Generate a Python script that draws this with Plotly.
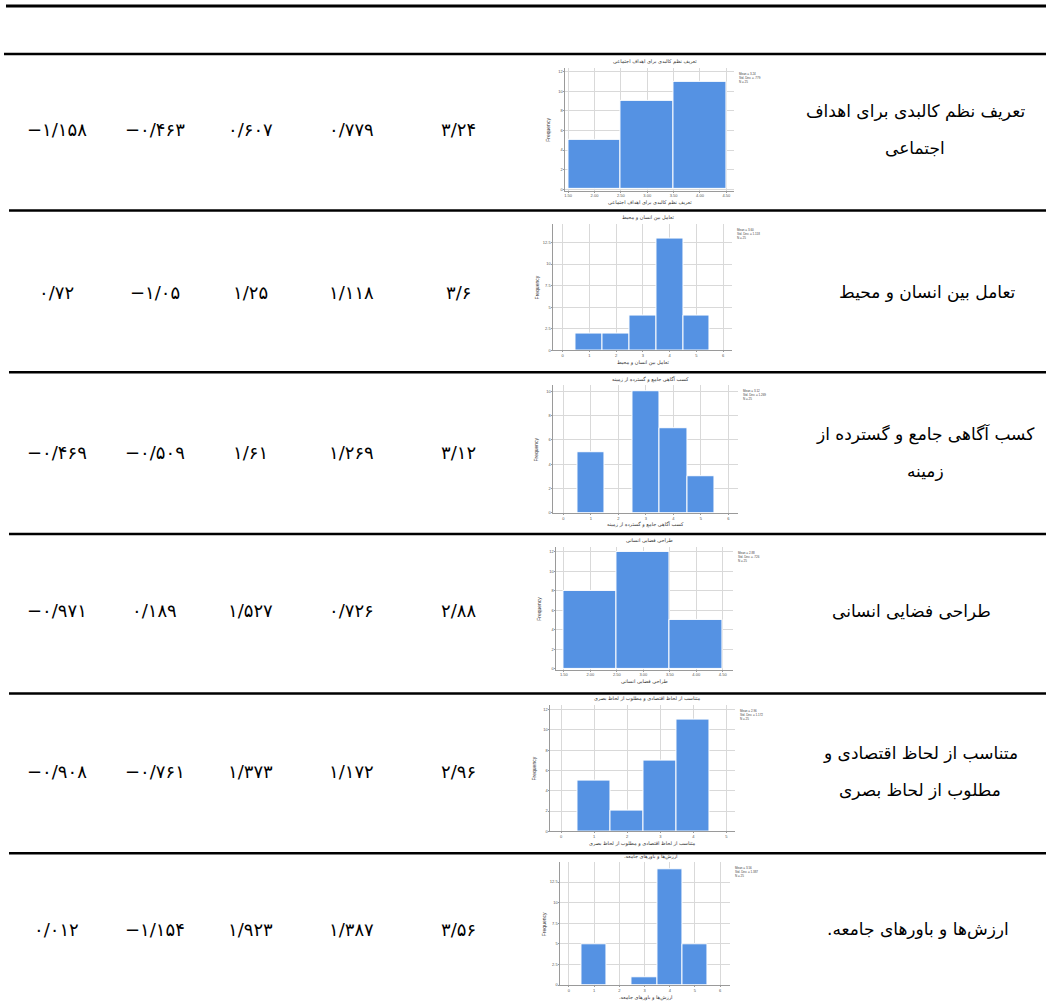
import plotly.graph_objects as go

W, H = 1046, 1005

# row labels (right column), split in display lines
labels = [
    ["تعریف نظم کالبدی برای اهداف", "اجتماعی"],
    ["تعامل بین انسان و محیط"],
    ["کسب آگاهی جامع و گسترده از", "زمینه"],
    ["طراحی فضایی انسانی"],
    ["متناسب از لحاظ اقتصادی و", "مطلوب از لحاظ بصری"],
    ["ارزش‌ها و باورهای جامعه.\u200f"],
]
means = ["۳/۲۴", "۳/۶", "۳/۱۲", "۲/۸۸", "۲/۹۶", "۳/۵۶"]
std_devs = ["۰/۷۷۹", "۱/۱۱۸", "۱/۲۶۹", "۰/۷۲۶", "۱/۱۷۲", "۱/۳۸۷"]
variances = ["۰/۶۰۷", "۱/۲۵", "۱/۶۱", "۱/۵۲۷", "۱/۳۷۳", "۱/۹۲۳"]
skewness = ["−۰/۴۶۳", "−۱/۰۵", "−۰/۵۰۹", "۰/۱۸۹", "−۰/۷۶۱", "−۱/۱۵۴"]
kurtosis = ["−۱/۱۵۸", "۰/۷۲", "−۰/۴۶۹", "−۰/۹۷۱", "−۰/۹۰۸", "۰/۰۱۲"]

# histogram data for each row
hist_x = [[2, 3, 4], [1, 2, 3, 4, 5], [1, 3, 4, 5], [2, 3, 4], [1, 2, 3, 4], [1, 3, 4, 5]]
hist_counts = [[5, 9, 11], [2, 2, 4, 13, 4], [5, 10, 7, 3], [8, 12, 5], [5, 2, 7, 11], [5, 1, 14, 5]]
hist_mean = ["3.24", "3.60", "3.12", "2.88", "2.96", "3.56"]
hist_sd = [".779", "1.118", "1.269", ".726", "1.172", "1.387"]
hist_n = [25, 25, 25, 25, 25, 25]
x_ticks = [
    [1.5, 2.0, 2.5, 3.0, 3.5, 4.0, 4.5],
    [0, 1, 2, 3, 4, 5, 6],
    [0, 1, 2, 3, 4, 5, 6],
    [1.5, 2.0, 2.5, 3.0, 3.5, 4.0, 4.5],
    [0, 1, 2, 3, 4, 5],
    [0, 1, 2, 3, 4, 5, 6],
]
y_dtick = [2, 2.5, 2, 2, 2, 2.5]

# plot-area geometry in pixels: left, right, top, bottom, x range, y range
geo = [
    (565, 734, 68, 191, [1.45, 4.65], [-0.15, 12.4]),
    (553, 732, 224, 351, [-0.34, 6.34], [0, 14.7]),
    (553, 738, 386, 514, [-0.36, 6.36], [0, 10.5]),
    (556, 733, 548, 671, [1.36, 4.7], [-0.1, 12.5]),
    (550, 735, 706, 833, [-0.32, 5.27], [0, 12.5]),
    (560, 730, 864, 987, [-0.33, 6.4], [0, 14.9]),
]
row_mid = [130, 293, 453, 612, 773, 931]
col_x = [458, 351, 250, 154, 56]
label_x = [915, 927, 925, 911, 920, 918]

def px(x):
    return x / W

def py(y):
    return 1 - y / H

def note(x, y, text, size, family, color="black", **kw):
    d = dict(x=px(x), y=py(y), text=text, showarrow=False, xref="paper", yref="paper",
             xanchor="center", yanchor="middle",
             font=dict(size=size, color=color, family=family))
    d.update(kw)
    return d

fig = go.Figure()
ann = []
font_fa = "DejaVu Sans"

for i in range(6):
    sfx = "" if i == 0 else str(i + 1)
    l, r, t, b, xr, yr = geo[i]
    fig.add_trace(go.Bar(
        x=hist_x[i], y=hist_counts[i], width=1,
        marker=dict(color="#5592e3", line=dict(color="white", width=1)),
        xaxis="x" + sfx, yaxis="y" + sfx, showlegend=False,
    ))
    fig.layout["xaxis" + sfx] = dict(
        domain=[px(l), px(r)], range=xr, anchor="y" + sfx,
        tickvals=x_ticks[i], ticktext=[f"{v:.2f}" if i in (0, 3) else str(v) for v in x_ticks[i]],
        showgrid=True, gridcolor="#d9d9d9", gridwidth=1, zeroline=False,
        showline=True, linecolor="#9a9a9a", linewidth=1,
        ticks="outside", ticklen=1, tickcolor="#9a9a9a",
        tickfont=dict(size=4, color="#555", family="Arial"),
    )
    fig.layout["yaxis" + sfx] = dict(
        domain=[py(b), py(t)], range=yr, anchor="x" + sfx,
        dtick=y_dtick[i], tick0=0,
        showgrid=True, gridcolor="#d9d9d9", gridwidth=1, zeroline=False,
        showline=True, linecolor="#9a9a9a", linewidth=1,
        ticks="outside", ticklen=1, tickcolor="#9a9a9a",
        tickfont=dict(size=4, color="#555", family="Arial"),
    )
    name = " ".join(labels[i])
    # chart title, x title, y title, stats box
    ann.append(note((l + r) / 2 + 5, t - 6, name, 5, font_fa, "#333"))
    ann.append(note((l + r) / 2, b + 12, name, 5, font_fa, "#333"))
    ann.append(note(l - 17, (t + b) / 2, "Frequency", 5, "Arial", "#333", textangle=-90))
    ann.append(note(r + 3, t + 2, f"Mean = {hist_mean[i]}<br>Std. Dev. = {hist_sd[i]}<br>N = {hist_n[i]}",
                    3, "Arial", "#444", xanchor="left", yanchor="top", align="left"))

    # numeric columns
    for j, col in enumerate([means, std_devs, variances, skewness, kurtosis]):
        ann.append(note(col_x[j], row_mid[i], col[i], 18, font_fa))
    # row label
    lines = labels[i]
    n = len(lines)
    for k, line in enumerate(lines):
        yy = row_mid[i] + (k - (n - 1) / 2) * 37
        ann.append(note(label_x[i], yy, line, 17, font_fa))

shapes = []
for y, x0, w in [(6, 5, 3), (54, 3, 2.5), (211, 8, 2.5), (373, 8, 2.5),
                 (535, 8, 2.5), (695, 8, 2.5), (855, 8, 2.5)]:
    shapes.append(dict(type="line", xref="paper", yref="paper",
                       x0=px(x0), x1=1, y0=py(y), y1=py(y),
                       line=dict(color="black", width=w)))

fig.update_layout(
    width=W, height=H,
    margin=dict(l=0, r=0, t=0, b=0),
    paper_bgcolor="white", plot_bgcolor="white",
    annotations=ann, shapes=shapes,
    bargap=0,
)

fig.write_html("out.html", config={"displayModeBar": False},
               post_script="document.body.style.margin='0';")
